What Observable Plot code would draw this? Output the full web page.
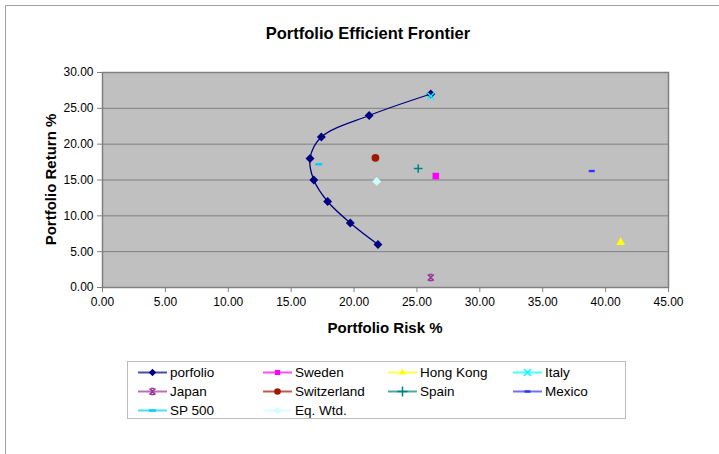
<!DOCTYPE html>
<html>
<head>
<meta charset="utf-8">
<script src="https://cdn.jsdelivr.net/npm/d3@7"></script>
<script src="https://cdn.jsdelivr.net/npm/@observablehq/plot@0.6"></script>
<style>
  html, body { margin: 0; padding: 0; background: #fff; }
  svg { display: block; }
</style>
</head>
<body>
<div id="chart"></div>
<script>
// ---- data ----
const portfolioRisk   = [21.9, 19.7, 17.9, 16.8, 16.5, 17.4, 21.2, 26.1];
const portfolioReturn = [6, 9, 12, 15, 18, 21, 24, 27];

const assetNames  = ["Sweden", "Hong Kong", "Italy", "Japan", "Switzerland", "Spain", "Mexico", "SP 500", "Eq. Wtd."];
const assetRisk   = [26.5, 41.2, 26.1, 26.1, 21.7, 25.1, 38.9, 17.2, 21.8];
const assetReturn = [15.55, 6.3, 26.7, 1.4, 18.1, 16.6, 16.25, 17.2, 14.8];

const xTicks = [0, 5, 10, 15, 20, 25, 30, 35, 40, 45];
const yTicks = [0, 5, 10, 15, 20, 25, 30];

const legendOrder = ["porfolio", "Sweden", "Hong Kong", "Italy", "Japan", "Switzerland", "Spain", "Mexico", "SP 500", "Eq. Wtd."];

// ---- styles ----
const dash = w => ({draw(ctx, size) { ctx.rect(-w / 2, -1.2, w, 2.4); }});
const star = {draw(ctx, size) {
  const r = 3, c = 1.6;
  ctx.moveTo(-r, -r); ctx.lineTo(r, r);
  ctx.moveTo(r, -r); ctx.lineTo(-r, r);
  ctx.moveTo(-c, -r); ctx.lineTo(c, -r);
  ctx.moveTo(-c, r); ctx.lineTo(c, r);
}};
const style = {
  "porfolio":    {color: "#000080", symbol: "diamond2", filled: true, r: 4},
  "Sweden":      {color: "#ff00ff", symbol: "square2", filled: true, r: 4.2},
  "Hong Kong":   {color: "#ffff00", symbol: "triangle2", filled: true, r: 4.2},
  "Italy":       {color: "#00ffff", symbol: "times", filled: false, r: 3.2},
  "Japan":       {color: "#993399", symbol: star, filled: false, r: 3},
  "Switzerland": {color: "#a01800", symbol: "circle", filled: true, r: 3.9},
  "Spain":       {color: "#008080", symbol: "plus", filled: false, r: 2.9},
  "Mexico":      {color: "#3333ff", symbol: dash(6), filled: true, r: 3},
  "SP 500":      {color: "#00ccff", symbol: dash(7), filled: true, r: 3},
  "Eq. Wtd.":    {color: "#ccffff", symbol: "diamond2", filled: true, r: 4}
};

const portfolio = portfolioRisk.map((x, i) => ({x, y: portfolioReturn[i]}));
const assets = assetNames.map((name, i) => ({name, x: assetRisk[i], y: assetReturn[i]}));

const assetMarks = assets.map(a => {
  const s = style[a.name];
  return Plot.dot([a], {
    x: "x", y: "y", symbol: () => s.symbol, r: s.r,
    fill: s.filled ? s.color : "none",
    stroke: s.filled ? "none" : s.color,
    strokeWidth: s.filled ? 0 : 1.5
  });
});

const W = 719, H = 454;
const svg = Plot.plot({
  width: W, height: H,
  marginLeft: 102, marginRight: 51, marginTop: 72, marginBottom: 167,
  style: {fontFamily: "Liberation Sans, Arial, sans-serif", fontSize: "12px", background: "#fff", color: "#000"},
  x: {domain: [0, 45], label: null},
  y: {domain: [0, 30], label: null},
  symbol: {type: "identity"},
  marks: [
    Plot.frame({fill: "#c0c0c0", stroke: null}),
    Plot.gridY(yTicks, {stroke: "#808080", strokeOpacity: 1, strokeWidth: 1}),
    Plot.frame({stroke: "#808080", strokeWidth: 1.5}),
    Plot.axisX(xTicks, {tickFormat: d3.format(".2f"), tickSize: 5, tickPadding: 5, stroke: "#808080", fill: "#000", fontSize: 12, label: null}),
    Plot.axisY(yTicks, {tickFormat: d3.format(".2f"), tickSize: 5, tickPadding: 4, stroke: "#808080", fill: "#000", fontSize: 12, label: null}),
    Plot.line(portfolio, {x: "x", y: "y", curve: "catmull-rom", stroke: "#000080", strokeWidth: 1.3}),
    Plot.dot(portfolio, {x: "x", y: "y", symbol: () => "diamond2", r: 4, fill: "#000080"}),
    ...assetMarks
  ]
});

const root = d3.select(svg);
const font = "Liberation Sans, Arial, sans-serif";

// outer chart border (top and left edges)
root.append("path").attr("d", `M5.5,${H} V5.5 H${W}`).attr("fill", "none").attr("stroke", "#a0a0a0").attr("stroke-width", 1);

// title and axis titles
root.append("text").attr("x", 368).attr("y", 39).attr("text-anchor", "middle")
  .attr("font-family", font).attr("font-weight", "bold").attr("font-size", 16.5).attr("fill", "#000")
  .text("Portfolio Efficient Frontier");
root.append("text").attr("x", 385).attr("y", 333).attr("text-anchor", "middle")
  .attr("font-family", font).attr("font-weight", "bold").attr("font-size", 15).attr("fill", "#000")
  .text("Portfolio Risk %");
root.append("text").attr("transform", "translate(56,179.5) rotate(-90)").attr("text-anchor", "middle")
  .attr("font-family", font).attr("font-weight", "bold").attr("font-size", 15).attr("fill", "#000")
  .text("Portfolio Return %");

// legend
const lg = root.append("g");
lg.append("rect").attr("x", 127.5).attr("y", 361.5).attr("width", 498).attr("height", 57)
  .attr("fill", "#fff").attr("stroke", "#bdbdbd").attr("stroke-width", 1);
const symType = s => {
  if (typeof s === "object") return s;
  return {diamond2: d3.symbolDiamond2, square2: d3.symbolSquare2, triangle2: d3.symbolTriangle2,
          times: d3.symbolTimes, plus: d3.symbolPlus, circle: d3.symbolCircle}[s];
};
legendOrder.forEach((name, i) => {
  const s = style[name];
  const col = i % 4, row = Math.floor(i / 4);
  const x0 = 138 + col * 125, y0 = 372.5 + row * 19;
  const g = lg.append("g");
  g.append("line").attr("x1", x0).attr("x2", x0 + 29).attr("y1", y0).attr("y2", y0)
    .attr("stroke", s.color).attr("stroke-opacity", 0.7).attr("stroke-width", 2);
  const sym = d3.symbol(symType(s.symbol), Math.PI * 3.3 * 3.3)();
  g.append("path").attr("d", sym).attr("transform", `translate(${x0 + 14.5},${y0})`)
    .attr("fill", s.filled ? s.color : "none").attr("stroke", s.filled ? "none" : s.color).attr("stroke-width", 1.5);
  g.append("text").attr("x", x0 + 32).attr("y", y0).attr("dy", "0.36em").attr("text-anchor", "start")
    .attr("font-family", font).attr("font-size", 13.5).attr("fill", "#000").text(name);
});

document.getElementById("chart").appendChild(svg);
</script>
</body>
</html>
